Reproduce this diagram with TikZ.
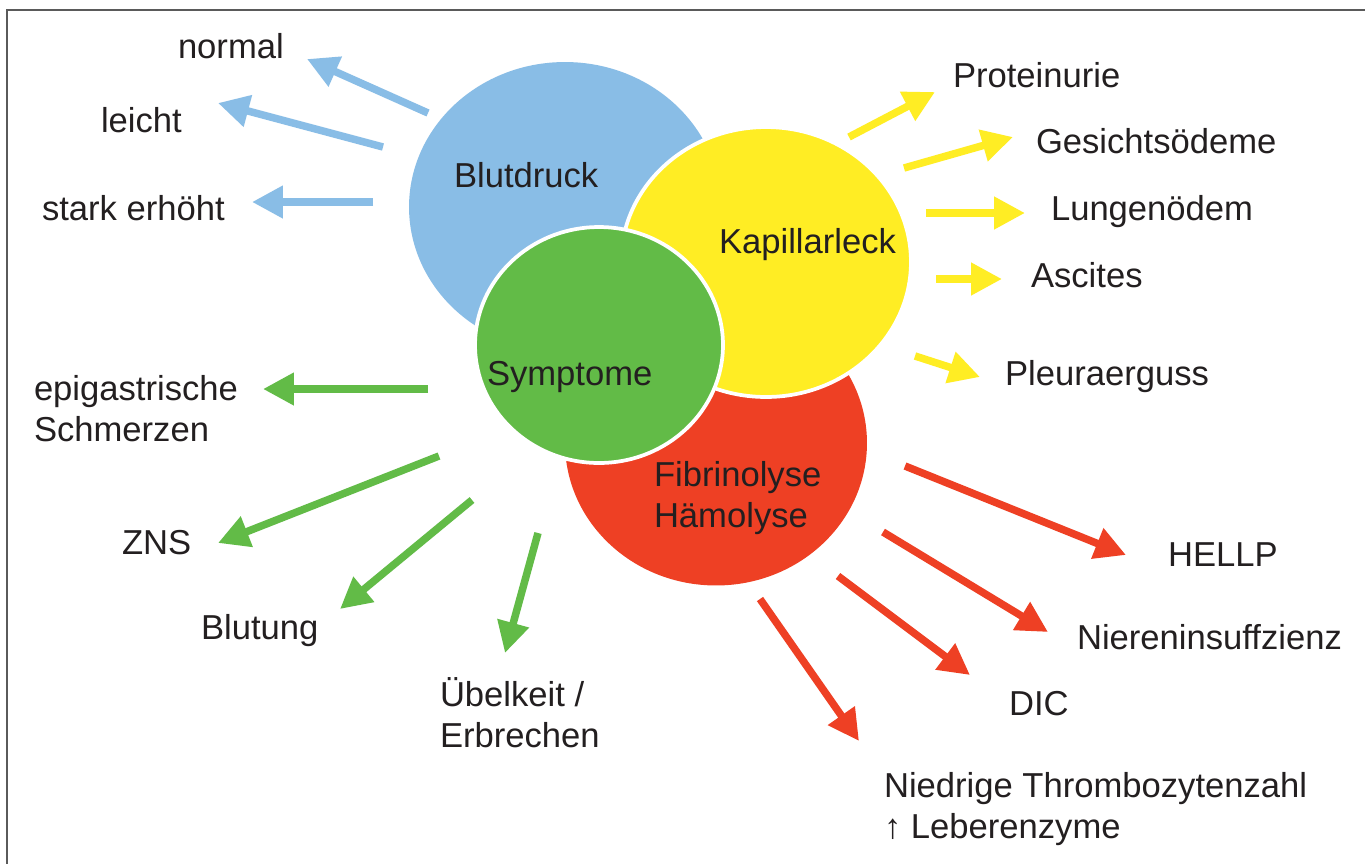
\documentclass[tikz,border=0pt]{standalone}
\usepackage{fontspec}
\setmainfont{Liberation Sans}
\usetikzlibrary{arrows.meta,shapes.geometric}
\definecolor{cblue}{RGB}{137,189,230}
\definecolor{cyellow}{RGB}{255,237,36}
\definecolor{cgreen}{RGB}{98,187,71}
\definecolor{cred}{RGB}{238,64,36}
\definecolor{ctext}{RGB}{35,31,32}
\definecolor{cframe}{RGB}{90,90,90}
\tikzset{
  blob/.style={ellipse, inner sep=0pt, outer sep=0pt},
  rim/.style={draw=white, line width=0.075cm},
  lbl/.style={anchor=base west, inner sep=0pt, outer sep=0pt, text=ctext, align=left,
    font=\fontsize{19.7}{23.25}\selectfont},
  arr/.style={line width=0.15cm, -{Triangle[length=0.62cm,width=0.62cm]}},
}
\begin{document}
\begin{tikzpicture}[x=0.02cm,y=-0.02cm]
\useasboundingbox (0,0) rectangle (1365,863);
\fill[white] (0,0) rectangle (1365,863);
\draw[cframe, line width=0.03cm] (7,10) rectangle (1380,880);

% circles
\node[blob, fill=cblue, minimum width=6.24cm, minimum height=5.8cm] (bp) at (565,207) {};
\node[blob, fill=cred, minimum width=6.04cm, minimum height=5.7cm] (fh) at (716,443) {};
\node[blob, fill=cyellow, rim, minimum width=5.8cm, minimum height=5.4cm] (kl) at (766,262) {};
\node[blob, fill=cgreen, rim, minimum width=4.96cm, minimum height=4.72cm] (sy) at (599,345) {};

% circle labels
\node[lbl] (tbp) at (454,187) {Blutdruck};
\node[lbl] (tkl) at (719,253) {Kapillarleck};
\node[lbl] (tsy) at (487,385) {Symptome};
\node[lbl] (tfh) at (654,527) {Fibrinolyse\\Hämolyse};

% outer labels
\node[lbl] (normal) at (178,58) {normal};
\node[lbl] (leicht) at (101,132) {leicht};
\node[lbl] (stark) at (42,220) {stark erhöht};
\node[lbl] (prot) at (953,87) {Proteinurie};
\node[lbl] (gesi) at (1036,153) {Gesichtsödeme};
\node[lbl] (lung) at (1051,220) {Lungenödem};
\node[lbl] (asci) at (1031,287) {Ascites};
\node[lbl] (pleu) at (1005,385) {Pleuraerguss};
\node[lbl] (epig) at (34,441) {epigastrische\\Schmerzen};
\node[lbl] (zns) at (122,554) {ZNS};
\node[lbl] (blut) at (201,639) {Blutung};
\node[lbl] (uebel) at (440,747) {Übelkeit /\\Erbrechen};
\node[lbl] (hellp) at (1168,566) {HELLP};
\node[lbl] (niere) at (1077,649) {Niereninsuffzienz};
\node[lbl] (dic) at (1009,715) {DIC};
\node[lbl] (niedr) at (884,838) {Niedrige Thrombozytenzahl\\↑ Leberenzyme};

% arrow coordinates
\coordinate (b1s) at (428,113); \coordinate (b1e) at (307,59);
\coordinate (b2s) at (383,147); \coordinate (b2e) at (218,103);
\coordinate (b3s) at (373,202); \coordinate (b3e) at (252,202);
\coordinate (y1s) at (849,137); \coordinate (y1e) at (935,92);
\coordinate (y2s) at (904,168); \coordinate (y2e) at (1013,137);
\coordinate (y3s) at (926,213); \coordinate (y3e) at (1025,213);
\coordinate (y4s) at (936,279); \coordinate (y4e) at (1002,279);
\coordinate (y5s) at (915,356); \coordinate (y5e) at (980,377);
\coordinate (g1s) at (428,389); \coordinate (g1e) at (263,389);
\coordinate (g2s) at (439,456); \coordinate (g2e) at (218,543);
\coordinate (g3s) at (472,500); \coordinate (g3e) at (340,609);
\coordinate (g4s) at (538,533); \coordinate (g4e) at (505,653);
\coordinate (r1s) at (905,466); \coordinate (r1e) at (1126,555);
\coordinate (r2s) at (883,532); \coordinate (r2e) at (1048,632);
\coordinate (r3s) at (838,576); \coordinate (r3e) at (970,675);
\coordinate (r4s) at (760,599); \coordinate (r4e) at (859,741);

\draw[arr, cblue] (b1s) -- (b1e);
\draw[arr, cblue] (b2s) -- (b2e);
\draw[arr, cblue] (b3s) -- (b3e);
\draw[arr, cyellow] (y1s) -- (y1e);
\draw[arr, cyellow] (y2s) -- (y2e);
\draw[arr, cyellow] (y3s) -- (y3e);
\draw[arr, cyellow] (y4s) -- (y4e);
\draw[arr, cyellow] (y5s) -- (y5e);
\draw[arr, cgreen] (g1s) -- (g1e);
\draw[arr, cgreen] (g2s) -- (g2e);
\draw[arr, cgreen] (g3s) -- (g3e);
\draw[arr, cgreen] (g4s) -- (g4e);
\draw[arr, cred] (r1s) -- (r1e);
\draw[arr, cred] (r2s) -- (r2e);
\draw[arr, cred] (r3s) -- (r3e);
\draw[arr, cred] (r4s) -- (r4e);
\end{tikzpicture}
\end{document}
